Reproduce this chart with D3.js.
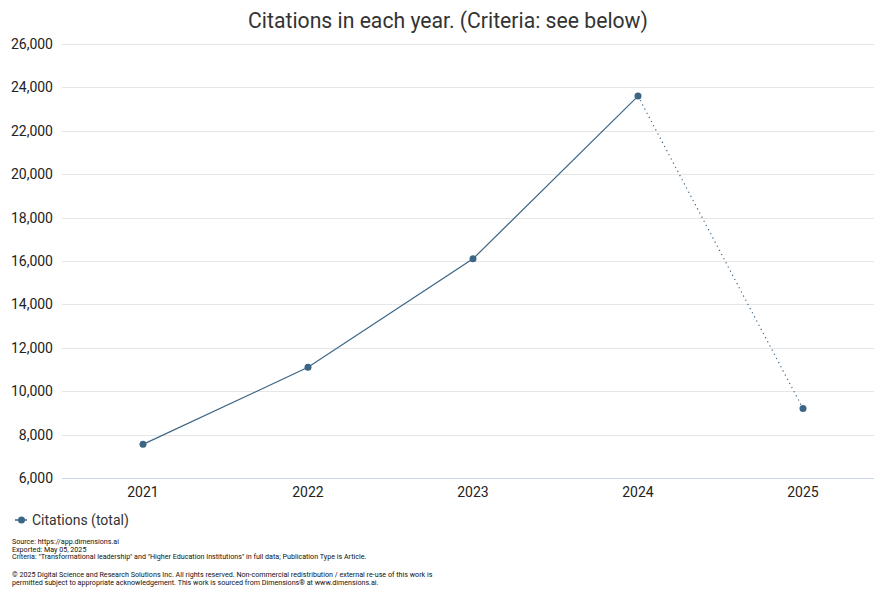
<!DOCTYPE html>
<html><head><meta charset="utf-8">
<script src="https://cdn.jsdelivr.net/npm/d3@7"></script>
<style>body{margin:0;background:#fff;font-family:Roboto,"Noto Sans",sans-serif;}</style>
</head><body><svg id="c" width="874" height="590"></svg>
<script>
const years = ["2021","2022","2023","2024","2025"];
const citations = [7550, 11100, 16100, 23600, 9200];
const yTicks = [6000,8000,10000,12000,14000,16000,18000,20000,22000,24000,26000];
const title = "Citations in each year. (Criteria: see below)";
const seriesName = "Citations (total)";
const footer1 = ["Source: https://app.dimensions.ai","Exported: May 05, 2025","Criteria: \"Transformational leadership\" and \"Higher Education Institutions\" in full data; Publication Type is Article."];
const footer2 = ["\u00a9 2025 Digital Science and Research Solutions Inc. All rights reserved. Non-commercial redistribution / external re-use of this work is","permitted subject to appropriate acknowledgement. This work is sourced from Dimensions\u00ae at www.dimensions.ai."];

(function(){
const svg = d3.select("#c");
const col = "#3d6685";
const pLeft = 62, pRight = 874, pTop = 44, pBottom = 478;
const x = d3.scaleBand().domain(years).range([60.5, 885.5]);
const y = d3.scaleLinear().domain([6000, 26000]).range([pBottom, pTop]);

svg.append("text").attr("x", 448).attr("y", 28).attr("text-anchor","middle")
  .attr("font-size", 21.2).attr("fill","#333").text(title);

const g = svg.append("g");
g.selectAll("line.grid").data(yTicks.slice(1)).join("line")
  .attr("x1", pLeft).attr("x2", pRight).attr("y1", d=>Math.round(y(d))+0.5).attr("y2", d=>Math.round(y(d))+0.5)
  .attr("stroke","#e6e6e6").attr("stroke-width",1);
g.append("line").attr("x1", pLeft).attr("x2", pRight).attr("y1", pBottom+0.5).attr("y2", pBottom+0.5)
  .attr("stroke","#ccd6eb");

g.selectAll("text.yt").data(yTicks).join("text")
  .attr("x", 53).attr("y", d=>y(d)+5).attr("text-anchor","end")
  .attr("font-size",14).attr("fill","#222").text(d=>d3.format(",")(d));
g.selectAll("text.xt").data(years).join("text")
  .attr("x", d=>x(d)+x.bandwidth()/2).attr("y", 497).attr("text-anchor","middle")
  .attr("font-size",14).attr("fill","#222").text(d=>d);

const pts = years.map((yr,i)=>[x(yr)+x.bandwidth()/2, y(citations[i])]);
const line = d3.line();
g.append("path").attr("d", line(pts.slice(0,4))).attr("fill","none").attr("stroke",col).attr("stroke-width",1.2);
g.append("path").attr("d", line(pts.slice(3))).attr("fill","none").attr("stroke",col).attr("stroke-width",1.2).attr("stroke-dasharray","1.2,3.5");
g.selectAll("circle").data(pts).join("circle").attr("cx",d=>d[0]).attr("cy",d=>d[1]).attr("r",3.5).attr("fill",col);

svg.append("line").attr("x1",15).attr("x2",28).attr("y1",520).attr("y2",520).attr("stroke",col).attr("stroke-width",1.5).attr("stroke-dasharray","3,1.5");
svg.append("circle").attr("cx",21.5).attr("cy",520).attr("r",3.5).attr("fill",col);
svg.append("text").attr("x",32).attr("y",525).attr("font-size",14).attr("fill","#333").text(seriesName);

svg.selectAll("text.f1").data(footer1).join("text").attr("x",12).attr("y",(d,i)=>544+i*7.7)
  .attr("font-size",7.15).attr("fill","#111").text(d=>d);
svg.selectAll("text.f2").data(footer2).join("text").attr("x",12).attr("y",(d,i)=>577+i*8)
  .attr("font-size",7.15).attr("fill","#111").text(d=>d);
})();
</script></body></html>
